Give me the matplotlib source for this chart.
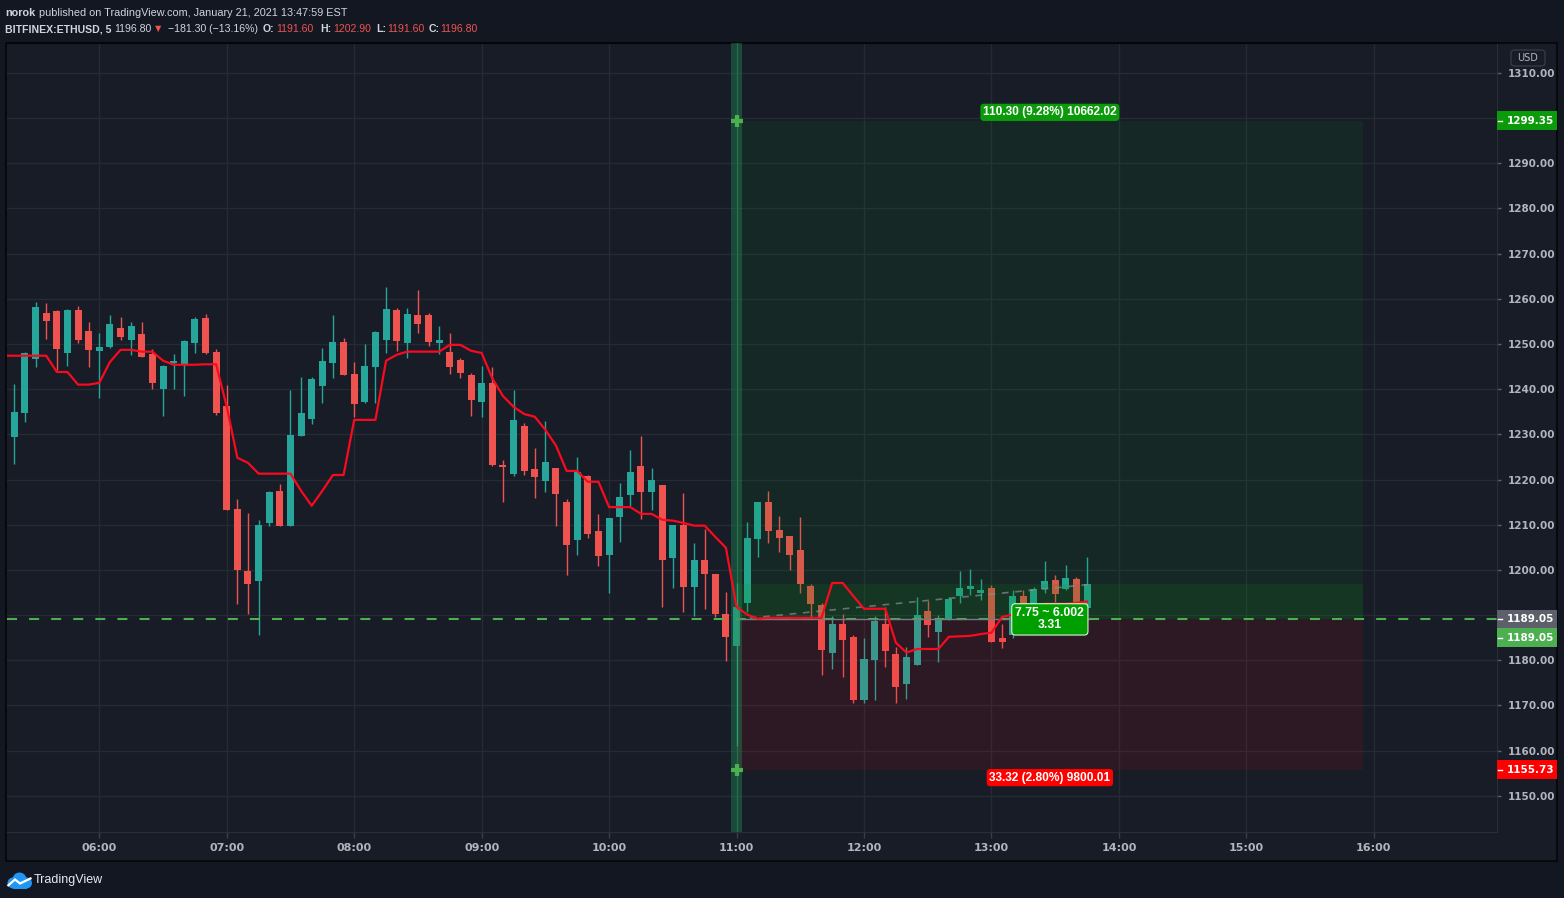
import matplotlib.pyplot as plt
from matplotlib.patches import Rectangle, FancyBboxPatch, Circle, Polygon
from matplotlib.lines import Line2D

W, H = 1564, 898

# BITFINEX:ETHUSD 5-minute bars, first bar 05:15 EST (bar index 0)
opens = [1242.5, 1229.5, 1234.8, 1246.7, 1256.9, 1257.3, 1248.0, 1257.6, 1252.9, 1248.5,
         1249.4, 1253.6, 1250.9, 1252.2, 1247.8, 1240.1, 1245.8, 1245.6, 1250.3, 1255.8,
         1248.3, 1236.3, 1213.5, 1199.8, 1197.6, 1210.4, 1217.5, 1209.8, 1229.7, 1233.4,
         1240.7, 1245.8, 1250.5, 1243.4, 1237.2, 1244.9, 1250.9, 1257.6, 1250.3, 1256.4,
         1256.4, 1250.3, 1248.3, 1246.5, 1243.2, 1237.2, 1241.4, 1223.3, 1221.3, 1231.9,
         1222.4, 1219.7, 1222.6, 1215.1, 1206.7, 1220.8, 1208.7, 1203.3, 1211.7, 1216.6,
         1223.0, 1217.3, 1218.8, 1202.7, 1210.0, 1196.3, 1202.2, 1199.1, 1190.3, 1183.2,
         1192.7, 1206.9, 1215.1, 1208.9, 1207.5, 1204.4, 1196.5, 1192.3, 1181.7, 1188.1,
         1185.2, 1171.3, 1180.1, 1188.1, 1181.4, 1174.8, 1179.0, 1191.0, 1186.3, 1189.2,
         1194.3, 1195.8, 1194.9, 1196.0, 1185.0, 1185.6, 1194.3, 1192.3, 1195.8, 1197.8,
         1195.8, 1198.0, 1191.6]
highs = [1243.0, 1241.2, 1248.2, 1259.3, 1259.1, 1257.5, 1257.8, 1258.4, 1254.9, 1252.5,
         1256.4, 1256.0, 1254.9, 1254.9, 1248.9, 1245.3, 1247.8, 1250.8, 1256.0, 1256.7,
         1248.9, 1241.0, 1215.7, 1212.6, 1211.1, 1217.5, 1219.1, 1239.9, 1242.7, 1242.7,
         1249.1, 1256.4, 1251.4, 1246.0, 1250.0, 1252.9, 1262.6, 1258.0, 1258.0, 1262.0,
         1256.9, 1254.0, 1252.5, 1246.9, 1243.6, 1245.2, 1244.9, 1224.4, 1239.9, 1232.5,
         1227.0, 1233.0, 1222.6, 1215.7, 1225.0, 1221.0, 1212.4, 1211.5, 1219.3, 1226.6,
         1229.7, 1222.6, 1218.8, 1210.0, 1217.1, 1206.0, 1209.1, 1199.1, 1195.2, 1197.1,
         1210.6, 1215.1, 1217.5, 1212.0, 1207.6, 1211.7, 1196.9, 1192.7, 1189.8, 1190.3,
         1185.6, 1185.0, 1189.8, 1191.8, 1183.0, 1183.0, 1194.0, 1193.2, 1190.0, 1194.0,
         1199.8, 1200.2, 1198.0, 1196.7, 1188.1, 1195.6, 1195.6, 1196.2, 1202.0, 1198.9,
         1201.1, 1198.5, 1202.9]
lows = [1228.5, 1223.5, 1232.8, 1244.9, 1251.1, 1244.3, 1245.2, 1250.3, 1244.9, 1238.1,
        1249.1, 1250.9, 1247.6, 1247.1, 1240.1, 1234.1, 1240.1, 1238.5, 1248.0, 1247.8,
        1234.3, 1213.2, 1192.5, 1190.3, 1185.6, 1209.8, 1209.8, 1209.8, 1229.6, 1232.3,
        1237.0, 1242.5, 1243.2, 1233.9, 1237.0, 1237.0, 1248.0, 1248.5, 1246.9, 1252.5,
        1249.6, 1247.8, 1243.4, 1242.5, 1234.1, 1233.9, 1223.0, 1215.1, 1220.8, 1221.0,
        1216.0, 1217.3, 1209.8, 1198.9, 1203.3, 1207.1, 1200.9, 1194.9, 1206.2, 1214.2,
        1211.3, 1213.3, 1191.8, 1196.0, 1190.7, 1189.8, 1191.4, 1189.6, 1179.9, 1161.1,
        1190.7, 1202.9, 1206.0, 1204.0, 1200.0, 1194.9, 1189.6, 1176.8, 1178.1, 1176.3,
        1170.6, 1170.6, 1171.3, 1178.6, 1170.6, 1171.5, 1179.0, 1185.2, 1179.7, 1189.0,
        1192.7, 1194.5, 1193.4, 1184.0, 1182.8, 1185.0, 1191.5, 1191.8, 1194.9, 1192.9,
        1195.5, 1191.4, 1191.6]
closes = [1228.8, 1235.0, 1248.0, 1258.2, 1255.1, 1248.9, 1257.6, 1250.9, 1248.7, 1249.4,
          1254.5, 1251.6, 1254.0, 1247.2, 1241.4, 1245.2, 1246.3, 1250.7, 1255.6, 1248.0,
          1234.8, 1213.3, 1200.0, 1196.9, 1210.0, 1217.3, 1209.8, 1229.9, 1234.8, 1242.3,
          1246.3, 1250.5, 1243.2, 1236.8, 1245.2, 1252.7, 1257.8, 1250.7, 1256.7, 1254.5,
          1250.5, 1250.9, 1244.9, 1243.6, 1237.6, 1241.4, 1223.3, 1222.8, 1233.2, 1221.9,
          1220.6, 1223.9, 1216.8, 1205.6, 1221.7, 1208.0, 1203.1, 1211.5, 1216.2, 1221.7,
          1217.3, 1219.9, 1202.2, 1210.0, 1196.3, 1202.2, 1199.1, 1190.3, 1185.2, 1191.8,
          1207.1, 1215.1, 1208.7, 1207.1, 1203.3, 1196.9, 1192.5, 1182.3, 1188.1, 1184.5,
          1171.3, 1180.3, 1188.7, 1182.1, 1174.1, 1180.8, 1190.1, 1187.8, 1189.2, 1193.6,
          1196.0, 1196.5, 1195.6, 1184.1, 1184.1, 1194.3, 1192.3, 1195.8, 1197.6, 1194.7,
          1198.2, 1191.6, 1196.8]
# red trailing indicator line, one value per bar
trail = [1247.4, 1247.4, 1247.4, 1247.4, 1247.4, 1243.8, 1243.8, 1241.0, 1241.0, 1241.4,
         1246.0, 1248.7, 1248.7, 1248.3, 1248.3, 1246.3, 1245.4, 1245.4, 1245.4, 1245.5,
         1245.5, 1236.1, 1224.8, 1223.7, 1221.3, 1221.3, 1221.3, 1221.3, 1217.5, 1214.2,
         1217.5, 1221.0, 1221.0, 1233.2, 1233.2, 1233.2, 1246.3, 1247.6, 1248.3, 1248.3,
         1248.3, 1248.3, 1249.8, 1249.8, 1248.5, 1248.0, 1242.4, 1238.5, 1236.1, 1234.5,
         1233.9, 1231.0, 1227.5, 1221.9, 1221.9, 1219.5, 1219.5, 1213.9, 1213.9, 1213.9,
         1212.4, 1212.4, 1211.1, 1210.9, 1210.4, 1209.8, 1209.8, 1207.3, 1204.9, 1191.8,
         1190.1, 1189.2, 1189.4, 1189.4, 1189.4, 1189.4, 1189.4, 1189.4, 1197.1, 1197.1,
         1194.2, 1191.4, 1191.4, 1191.4, 1183.9, 1181.7, 1182.5, 1182.5, 1182.5, 1185.2,
         1185.3, 1185.4, 1185.8, 1186.1, 1189.6, 1190.1, 1190.3, 1191.5, 1192.5, 1192.5,
         1192.5, 1192.7, 1193.0]

hour_labels = ["06:00", "07:00", "08:00", "09:00", "10:00", "11:00",
               "12:00", "13:00", "14:00", "15:00", "16:00"]
hour_bars = [9, 21, 33, 45, 57, 69, 81, 93, 105, 117, 129]
price_ticks = [1150, 1160, 1170, 1180, 1190, 1200, 1210, 1220, 1230, 1240,
               1250, 1260, 1270, 1280, 1290, 1300, 1310]

# long position tool
entry = 1189.05
target = 1299.35
stop = 1155.73
last = 1196.80
pos_start, pos_end = 69, 128
target_text = "110.30 (9.28%) 10662.02"
stop_text = "33.32 (2.80%) 9800.01"
mid_text = "7.75 ~ 6.002\n3.31"

BG = "#131722"
PANE = "#181c27"
GRID = "#262a35"
TXT = "#b2b5be"
UP = "#26a69a"
DOWN = "#ef5350"


def fx(px):
    return px / W


def fy(px):
    return 1 - px / H


fig = plt.figure(figsize=(W / 100, H / 100), dpi=100, facecolor=BG)
fig.patches.append(Rectangle((fx(6), fy(861)), fx(1557) - fx(6), fy(43) - fy(861),
                             transform=fig.transFigure, facecolor=PANE,
                             edgecolor="#050608", lw=1.2, zorder=-1))

ax = fig.add_axes([fx(7), fy(832), fx(1497) - fx(7), fy(43) - fy(832)])
ax.set_facecolor(PANE)
ax.set_xlim(0.31, 140.6)
ax.set_ylim(1142.0, 1316.6)

idx = list(range(len(opens)))
cols = [UP if c >= o else DOWN for o, c in zip(opens, closes)]
ax.vlines(idx, lows, highs, colors=cols, lw=1.0, zorder=2)
ax.bar(idx, [max(abs(c - o), 0.25) for o, c in zip(opens, closes)],
       bottom=[min(o, c) for o, c in zip(opens, closes)],
       width=0.66, color=cols, lw=0, zorder=2)

# position zones (drawn over the candles, translucent)
span = pos_end - pos_start
ax.add_patch(Rectangle((pos_start, entry), span, target - entry, facecolor=(0.04, 0.59, 0.08),
                       alpha=0.10, lw=0, zorder=3))
ax.add_patch(Rectangle((pos_start, entry), span, last - entry, facecolor=(0.04, 0.59, 0.08),
                       alpha=0.13, lw=0, zorder=3))
ax.add_patch(Rectangle((pos_start, stop), span, entry - stop, facecolor=(1.0, 0.0, 0.0),
                       alpha=0.09, lw=0, zorder=3))

# highlighted entry bar
ax.axvspan(pos_start - 0.55, pos_start + 0.55, color="#1f8a52", alpha=0.42, lw=0, zorder=4)
ax.axvline(pos_start, color="#3fae78", alpha=0.3, lw=0.8, zorder=4)

ax.axhline(entry, color="#4caf50", lw=1.5, ls=(0, (4.8, 5.8)), zorder=3.5)
ax.hlines(entry, pos_start, len(opens) - 0.7, color="#787b86", lw=1.0, zorder=3.6)
ax.plot([pos_start, len(opens) - 0.7], [entry, last], color="#8a8d96", lw=1.2,
        ls=(0, (4, 4)), alpha=0.7, zorder=3.6)

ax.plot(idx, trail, color="#fa0a1e", lw=1.6, zorder=5, solid_joinstyle="round")

ax.plot([pos_start, pos_start], [target, stop], ls="none", marker="+", ms=9, mew=3,
        color="#4caf50", zorder=6)

mid = (pos_start + pos_end) / 2
lab_font = dict(family=["Liberation Sans", "DejaVu Sans"], fontweight="bold",
                color="white", ha="center", va="center", zorder=8)
ax.annotate(target_text, xy=(mid, target), xytext=(0, 6.2), textcoords="offset points",
            fontsize=8.6,
            bbox=dict(boxstyle="round,pad=0.22,rounding_size=0.3", fc="#0a9a0a", ec="none"),
            **lab_font)
ax.annotate(stop_text, xy=(mid, stop), xytext=(0, -5.5), textcoords="offset points",
            fontsize=8.6,
            bbox=dict(boxstyle="round,pad=0.22,rounding_size=0.3", fc="#ff0000", ec="none"),
            **lab_font)
ax.annotate(mid_text, xy=(mid, entry), xytext=(0, 0), textcoords="offset points",
            fontsize=8.8, linespacing=1.0,
            bbox=dict(boxstyle="round,pad=0.3,rounding_size=0.3", fc="#009f00", ec="#d9f2d9",
                      lw=0.8), **lab_font)

# grid, axes
ax.set_xticks(hour_bars)
ax.set_xticklabels(hour_labels)
ax.set_yticks(price_ticks)
ax.set_yticklabels([f"{p:.2f}" for p in price_ticks])
ax.yaxis.tick_right()
ax.grid(True, color=GRID, lw=1.0, zorder=0)
ax.set_axisbelow(True)
ax.tick_params(axis="x", length=4, width=1, color="#3a3e49", pad=4, labelsize=8,
               labelcolor=TXT)
ax.tick_params(axis="y", length=3, width=1, color="#5d606b", pad=5, labelsize=7.5,
               labelcolor=TXT)
for lab in ax.get_xticklabels() + ax.get_yticklabels():
    lab.set_fontweight("bold")
ax.spines["left"].set_visible(False)
ax.spines["top"].set_color("#050608")
ax.spines["bottom"].set_color("#2a2e39")
ax.spines["right"].set_color("#2a2e39")

# price tags on the axis
tags = [(target, "#0a9a0a", 0), (entry, "#5d606b", 0), (entry, "#4caf50", -18.5),
        (stop, "#ff0000", 0)]
tag_y = []
for price, color, off in tags:
    ydisp = ax.transData.transform((0, price))[1] + off
    tag_y.append(ydisp)
    yf = ydisp / H
    fig.patches.append(Rectangle((fx(1497), yf - 9.5 / H), 60 / W, 19 / H,
                                 transform=fig.transFigure, facecolor=color, lw=0, zorder=5))
    fig.lines.append(Line2D([fx(1498), fx(1502)], [yf, yf], transform=fig.transFigure,
                            color="white", lw=1, zorder=6))
    fig.text(fx(1507), yf, f"{price:.2f}", color="white", fontsize=7.5, fontweight="bold",
             ha="left", va="center", zorder=7)

# tick labels hidden under a price tag are not shown (as on the reference)
for p, lab in zip(price_ticks, ax.get_yticklabels()):
    yd = ax.transData.transform((0, p))[1]
    if any(abs(yd - t) < 12 for t in tag_y):
        lab.set_visible(False)

fig.patches.append(FancyBboxPatch((fx(1511), fy(66)), fx(1545) - fx(1511), fy(50) - fy(66),
                                  boxstyle="round,pad=0,rounding_size=0.003",
                                  transform=fig.transFigure, fc=PANE, ec="#363a45", lw=1,
                                  zorder=5))
fig.text(fx(1528), fy(58), "USD", color=TXT, fontsize=7, ha="center", va="center", zorder=6)

# header
hfont = ["Liberation Sans", "DejaVu Sans"]
HCOL = "#d1d4dc"
fig.text(fx(5), fy(13), "norok", family=hfont, fontsize=7.8, fontweight="bold", color=HCOL,
         va="center")
fig.text(fx(39), fy(13), "published on TradingView.com, January 21, 2021 13:47:59 EST",
         family=hfont, fontsize=7.8, color=HCOL, va="center")
header2 = [(5, "BITFINEX:ETHUSD, 5", "bold", HCOL),
           (114, "1196.80", "normal", HCOL),
           (153, "\u25bc", "normal", DOWN),
           (168, "\u2212181.30 (\u221213.16%)", "normal", HCOL),
           (263, "O:", "bold", HCOL), (276, "1191.60", "normal", DOWN),
           (320, "H:", "bold", HCOL), (333, "1202.90", "normal", DOWN),
           (376, "L:", "bold", HCOL), (387, "1191.60", "normal", DOWN),
           (429, "C:", "bold", HCOL), (440, "1196.80", "normal", DOWN)]
for xp, s, wt, c in header2:
    fig.text(fx(xp), fy(29), s, family=hfont, fontsize=7.6, fontweight=wt, color=c,
             va="center")

# TradingView logo
lax = fig.add_axes([fx(6), fy(890), fx(33) - fx(6), fy(870) - fy(890)])
lax.set_xlim(0, 27)
lax.set_ylim(0, 20)
lax.set_aspect("equal")
lax.axis("off")
for cx, cy, r in [(7, 7, 5.5), (13.5, 10.5, 7), (20.5, 7, 5.5)]:
    lax.add_patch(Circle((cx, cy), r, fc="#2196f3", ec="none"))
lax.add_patch(Rectangle((7, 1.5), 13.5, 6, fc="#2196f3", ec="none"))
lax.add_patch(Polygon([(1.5, 4), (9, 10.5), (14, 6.5), (25.5, 12)], closed=False, fill=False,
                      ec="white", lw=1.6))
fig.text(fx(34), fy(880), "TradingView", family=hfont, fontsize=9, color="#e8eaf0",
         va="center")

fig.savefig("out.png", dpi=100, facecolor=BG)
